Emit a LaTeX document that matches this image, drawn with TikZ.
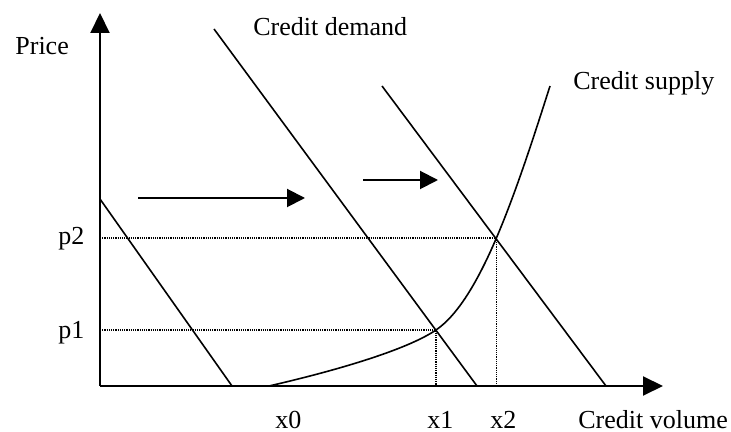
\documentclass[tikz,border=0pt]{standalone}
\usepackage{fontspec}
\setmainfont{Liberation Serif}
\usetikzlibrary{arrows.meta}
\tikzset{
  axis/.style={line width=1bp, -{Triangle[length=10bp,width=9.5bp]}},
  shiftarrow/.style={line width=1bp, -{Triangle[length=9bp,width=9bp]}},
  curve/.style={line width=0.8bp},
  guide/.style={line width=0.55bp, dash pattern=on 0.55bp off 0.55bp},
  lbl/.style={anchor=base west, inner sep=0pt, font=\fontsize{13bp}{15bp}\selectfont}
}
\begin{document}
\begin{tikzpicture}[x=0.5bp, y=-0.5bp]
\useasboundingbox (0,0) rectangle (731,432);
% axes
\coordinate (origin) at (100,386);
\coordinate (ytip) at (100,13);
\coordinate (xtip) at (663,386);
\draw[axis] (origin) -- (ytip);
\draw[axis] (origin) -- (xtip);
% demand curves
\coordinate (dem0top) at (100,199);
\coordinate (dem0bot) at (232,386);
\coordinate (dem1top) at (214,29);
\coordinate (dem1bot) at (477,386);
\coordinate (dem2top) at (382,86);
\coordinate (dem2bot) at (606,386);
\draw[curve] (dem0top) -- (dem0bot);
\draw[curve] (dem1top) -- (dem1bot);
\draw[curve] (dem2top) -- (dem2bot);
% supply curve
\coordinate (supbot) at (269,386);
\coordinate (eq1) at (436,330);
\coordinate (eq2) at (496.4,238);
\coordinate (suptop) at (550,86);
\draw[curve] (supbot) .. controls (330,372) and (405,351) .. (eq1)
  .. controls (458,315) and (477.75,281.5) .. (eq2)
  .. controls (515,194.5) and (532.5,141) .. (suptop);
% guides
\coordinate (p1) at (100,330);
\coordinate (p2) at (100,238);
\coordinate (x1) at (436,386);
\coordinate (x2) at (496.4,386);
\draw[guide] (p1) -- (eq1) -- (x1);
\draw[guide] (p2) -- (eq2) -- (x2);
% shift arrows
\coordinate (sh1a) at (138,198);
\coordinate (sh1b) at (305,198);
\coordinate (sh2a) at (363,180);
\coordinate (sh2b) at (438,180);
\draw[shiftarrow] (sh1a) -- (sh1b);
\draw[shiftarrow] (sh2a) -- (sh2b);
% labels
\node[lbl] (price) at (15,55) {Price};
\node[lbl] (demand) at (253,36) {Credit demand};
\node[lbl] (supply) at (573,90) {Credit supply};
\node[lbl] (p2lbl) at (58,245) {p2};
\node[lbl] (p1lbl) at (58,339) {p1};
\node[lbl] (x0lbl) at (275,429) {x0};
\node[lbl] (x1lbl) at (427,429) {x1};
\node[lbl] (x2lbl) at (490,429) {x2};
\node[lbl] (volume) at (578,429) {Credit volume};
\end{tikzpicture}
\end{document}
